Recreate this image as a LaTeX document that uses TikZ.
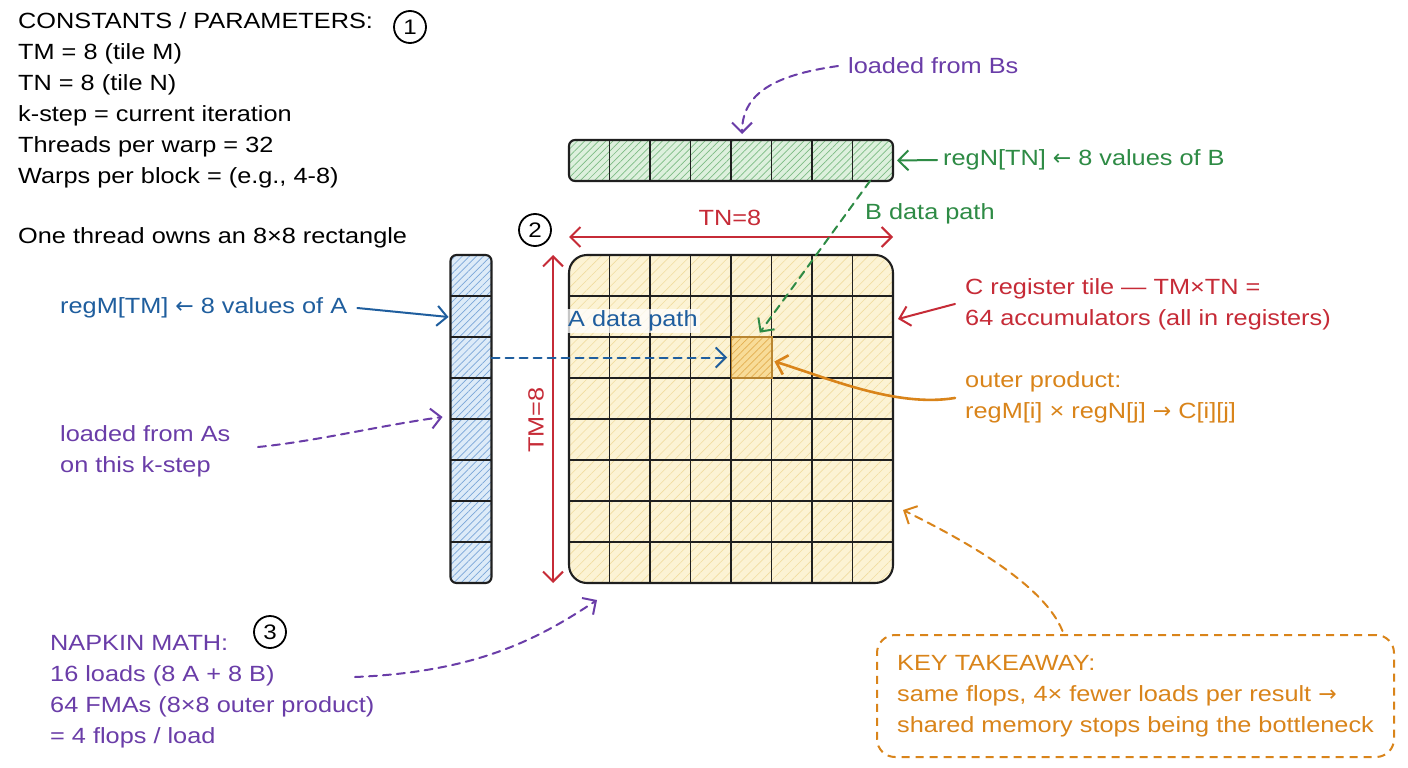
\documentclass[tikz,border=0pt]{standalone}
\usepackage{fontspec}
\setmainfont{Liberation Sans}[FakeStretch=1.15]
\newfontfamily\sym{DejaVu Sans}
\usetikzlibrary{arrows.meta,patterns.meta,calc}
\definecolor{cRed}{HTML}{C62B37}
\definecolor{cBlue}{HTML}{1F5E9E}
\definecolor{cGreen}{HTML}{2E8B45}
\definecolor{cPurple}{HTML}{6A3DA8}
\definecolor{cOrange}{HTML}{D9841A}
\definecolor{cFillC}{HTML}{FCF3D4}
\definecolor{cHatchC}{HTML}{F0DCA0}
\definecolor{cFillHL}{HTML}{F8DC98}
\definecolor{cHatchHL}{HTML}{E3AE50}
\definecolor{cBorderHL}{HTML}{B88530}
\definecolor{cFillA}{HTML}{DDEBF8}
\definecolor{cHatchA}{HTML}{7AA6D8}
\definecolor{cFillB}{HTML}{DDF0DD}
\definecolor{cHatchB}{HTML}{7CBC84}
\tikzset{
  txt/.style={font=\fontsize{22}{31}\selectfont, inner sep=0pt, align=left},
  conn/.style={line width=2pt, line cap=round, -{Straight Barb[length=10pt,width=20pt]}},
  dimarrow/.style={line width=2pt, cRed, line cap=round, {Straight Barb[length=10pt,width=20pt]}-{Straight Barb[length=10pt,width=20pt]}},
  dashpat/.style={dash pattern=on 8pt off 6pt},
  gridline/.style={line width=1.9pt, black!88},
  num/.style={circle, draw, line width=1.8pt, minimum size=32pt, inner sep=0pt, font=\fontsize{21}{21}\selectfont},
  regbox/.style={draw=black!88, line width=2.1pt, inner sep=0pt, outer sep=0pt},
}
\begin{document}
\begin{tikzpicture}[x=1pt,y=-1pt]
\fill[white] (0,0) rectangle (1408,768);
\useasboundingbox (0,0) rectangle (1408,768);

% ---------- C register tile ----------
\node[regbox, rounded corners=18pt, minimum width=324pt, minimum height=328pt,
      preaction={fill=cFillC}, pattern={Lines[angle=45,distance=7pt,line width=0.6pt]}, pattern color=cHatchC] (C) at (731,419) {};
\foreach \i in {1,...,7} {
  \draw[gridline] ($(C.north west)+(\i*40.5,0)$) -- ($(C.south west)+(\i*40.5,0)$);
  \draw[gridline] ($(C.north west)+(0,\i*41)$) -- ($(C.north east)+(0,\i*41)$);
}
\node[draw=cBorderHL, line width=1.4pt, inner sep=0pt, minimum width=40.5pt, minimum height=41pt,
      preaction={fill=cFillHL}, pattern={Lines[angle=45,distance=5pt,line width=0.7pt]}, pattern color=cHatchHL] (hl) at (751.75,357.5) {};

% ---------- A column ----------
\node[regbox, rounded corners=6pt, minimum width=41pt, minimum height=328pt,
      preaction={fill=cFillA}, pattern={Lines[angle=45,distance=5pt,line width=0.7pt]}, pattern color=cHatchA] (A) at (471,419) {};
\foreach \i in {1,...,7}
  \draw[gridline] ($(A.north west)+(0,\i*41)$) -- ($(A.north east)+(0,\i*41)$);

% ---------- B row ----------
\node[regbox, rounded corners=6pt, minimum width=324pt, minimum height=41pt,
      preaction={fill=cFillB}, pattern={Lines[angle=45,distance=5pt,line width=0.7pt]}, pattern color=cHatchB] (B) at (731,160.5) {};
\foreach \i in {1,...,7}
  \draw[gridline] ($(B.north west)+(\i*40.5,0)$) -- ($(B.south west)+(\i*40.5,0)$);

% ---------- dimension arrows ----------
\draw[dimarrow] ([yshift=18pt]C.north west) -- ([yshift=18pt]C.north east);
\draw[dimarrow] ([xshift=-16pt]C.north west) -- ([xshift=-16pt]C.south west);
\node[txt, cRed] (tn) at (730,218) {TN=8};
\node[txt, cRed, rotate=90] (tm) at (536,420) {TM=8};

% ---------- numbered circles ----------
\node[num] (n1) at (410,27) {1};
\node[num] (n2) at (535,230) {2};
\node[num] (n3) at (270,632) {3};

% ---------- text blocks ----------
\node[txt, anchor=north west] (consts) at (18,12) {CONSTANTS / PARAMETERS:\\TM = 8 (tile M)\\TN = 8 (tile N)\\k-step = current iteration\\Threads per warp = 32\\Warps per block = (e.g., 4-8)};
\node[txt, anchor=west] (owns) at (18,238) {One thread owns an 8×8 rectangle};

\node[txt, anchor=west, cPurple] (lBs) at (848,66) {loaded from Bs};
\node[txt, anchor=west, cGreen] (lN) at (943,160) {regN[TN] {\sym←} 8 values of B};
\node[txt, anchor=west, cGreen] (lBpath) at (865,214) {B data path};
\node[txt, anchor=west, cBlue] (lM) at (60,308) {regM[TM] {\sym←} 8 values of A};
\node[txt, anchor=west, cBlue, fill=white, fill opacity=0.75, text opacity=1, inner sep=2pt] (lApath) at (566,321) {A data path};
\node[txt, anchor=north west, cPurple] (lAs) at (60,425) {loaded from As\\on this k-step};
\node[txt, anchor=north west, cRed] (lC) at (965,278) {C register tile — TM×TN =\\64 accumulators (all in registers)};
\node[txt, anchor=north west, cOrange] (lO) at (965,371) {outer product:\\regM[i] × regN[j] {\sym→} C[i][j]};
\node[txt, anchor=north west, cPurple] (nap) at (50,635) {NAPKIN MATH:\\16 loads (8 A + 8 B)\\64 FMAs (8×8 outer product)\\= 4 flops / load};
\node[txt, cOrange, draw=cOrange, line width=2pt, dashpat, rounded corners=18pt,
      minimum width=517pt, minimum height=122pt] (key) at (1135.5,696)
      {KEY TAKEAWAY:\\same flops, 4× fewer loads per result {\sym→}\\shared memory stops being the bottleneck};

% ---------- connectors ----------
\coordinate (Btop) at ([xshift=11pt,yshift=6pt]B.north);
\coordinate (asOut) at (258,447);
\coordinate (napOut) at (355,677);
\draw[conn, cPurple, dashpat] ([xshift=-10pt]lBs.west) .. controls +(-55,8) and +(0,-45) .. (Btop);
\draw[conn, cGreen] ([xshift=-6pt]lN.west) -- ([xshift=4pt]B.east);
\draw[conn, cGreen, dashpat] ([xshift=-23pt]B.south east) -- ([xshift=8pt,yshift=4pt]hl.north);
\draw[conn, cBlue, dashpat] ([yshift=61.5pt]A.east) -- ([xshift=-4pt]hl.west);
\draw[conn, cBlue] ([xshift=10pt]lM.east) -- ([xshift=-2pt,yshift=102pt]A.west);
\draw[conn, cPurple, dashpat] (asOut) .. controls +(60,-6) and +(-60,8) .. ([xshift=-8pt,yshift=2pt]A.west);
\draw[conn, cRed] ([xshift=-10pt]lC.west) -- ([xshift=5pt,yshift=100pt]C.east);
\draw[conn, cOrange, line width=2.6pt] ([xshift=-10pt,yshift=-1pt]lO.west) .. controls +(-60,10) and +(50,15) .. ([xshift=2pt,yshift=-4pt]hl.east);
\draw[conn, cOrange, dashpat] ([xshift=-73pt,yshift=3pt]key.north) .. controls +(-20,-50) and +(50,25) .. ([xshift=10pt,yshift=-91pt]C.east);
\draw[conn, cPurple, dashpat] (napOut) .. controls +(120,-5) and +(-60,40) .. ([xshift=28pt,yshift=-17pt]C.south west);
\end{tikzpicture}
\end{document}
